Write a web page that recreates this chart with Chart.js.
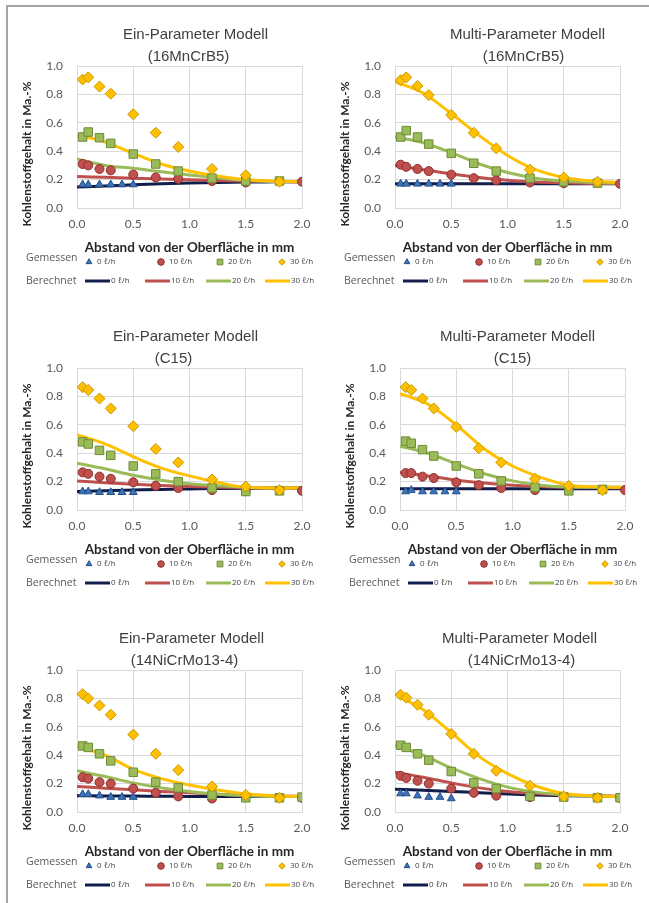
<!DOCTYPE html>
<html>
<head>
<meta charset="utf-8">
<script src="https://cdn.jsdelivr.net/npm/chart.js@4.4.1/dist/chart.umd.min.js"></script>
<style>
  html, body { margin: 0; overflow: hidden; }
  body { background: #fff; width: 649px; height: 903px; position: relative; }
  .frame { position: absolute; left: 6px; top: 5px; width: 641px; height: 896px;
           border-top: 2px solid #a6a6a6; border-left: 2px solid #a6a6a6; }
  canvas { position: absolute; }
</style>
</head>
<body>
<div class="frame"></div>
<canvas id="c1" width="316" height="292" style="left:8px;top:10px"></canvas>
<canvas id="c2" width="316" height="292" style="left:326px;top:10px"></canvas>
<canvas id="c3" width="316" height="292" style="left:8px;top:312px"></canvas>
<canvas id="c4" width="316" height="292" style="left:331px;top:312px"></canvas>
<canvas id="c5" width="316" height="289" style="left:8px;top:614px"></canvas>
<canvas id="c6" width="316" height="289" style="left:326px;top:614px"></canvas>
<script>
// shared x positions
var xMeasured = [0.05, 0.1, 0.2, 0.3, 0.4, 0.5, 0.7, 0.9, 1.2, 1.5, 1.8, 2.0];
var xCalc = [0, 0.25, 0.5, 0.75, 1.0, 1.25, 1.5, 1.75, 2.0];
var flowLabels = ['0 ℓ/h', '10 ℓ/h', '20 ℓ/h', '30 ℓ/h'];
var yTicks = [0, 0.2, 0.4, 0.6, 0.8, 1.0];
var xTicks = [0, 0.5, 1.0, 1.5, 2.0];

// Ein-Parameter 16MnCrB5 - gemessen
var einMn_m0 = [0.165, 0.165, 0.165, 0.165, 0.165, 0.165, null, null, null, null, null, null];
var einMn_m10 = [0.31, 0.30, 0.275, 0.265, null, 0.235, 0.215, 0.205, 0.19, 0.18, null, 0.185];
var einMn_m20 = [0.50, 0.535, 0.495, 0.455, null, 0.38, 0.31, 0.26, 0.21, 0.19, 0.19, null];
var einMn_m30 = [0.905, 0.92, 0.855, 0.805, null, 0.66, 0.53, 0.43, 0.275, 0.23, 0.185, null];
// Ein-Parameter 16MnCrB5 - berechnet
var einMn_c0 = [0.148, 0.155, 0.163, 0.17, 0.176, 0.18, 0.183, 0.184, 0.185];
var einMn_c10 = [0.222, 0.216, 0.21, 0.204, 0.199, 0.194, 0.19, 0.187, 0.185];
var einMn_c20 = [0.345, 0.30, 0.28, 0.255, 0.233, 0.213, 0.195, 0.187, 0.185];
var einMn_c30 = [0.515, 0.465, 0.385, 0.31, 0.26, 0.225, 0.2, 0.19, 0.185];

// Multi-Parameter 16MnCrB5
var mulMn_m0 = [0.17, 0.17, 0.17, 0.17, 0.17, 0.17, null, null, null, null, null, null];
var mulMn_m10 = [0.305, 0.29, 0.275, 0.26, null, 0.235, 0.21, 0.195, 0.18, 0.175, null, 0.17];
var mulMn_m20 = [0.50, 0.545, 0.50, 0.45, null, 0.385, 0.315, 0.26, 0.21, 0.185, 0.175, null];
var mulMn_m30 = [0.90, 0.92, 0.86, 0.795, null, 0.655, 0.53, 0.42, 0.27, 0.215, 0.185, null];
var mulMn_c0 = [0.17, 0.17, 0.17, 0.17, 0.17, 0.17, 0.17, 0.17, 0.17];
var mulMn_c10 = [0.30, 0.27, 0.24, 0.215, 0.195, 0.183, 0.177, 0.173, 0.172];
var mulMn_c20 = [0.50, 0.46, 0.39, 0.31, 0.25, 0.21, 0.19, 0.18, 0.175];
var mulMn_c30 = [0.89, 0.81, 0.665, 0.51, 0.37, 0.27, 0.215, 0.19, 0.18];

// Ein-Parameter C15
var einC_m0 = [0.13, 0.13, 0.125, 0.125, 0.125, 0.125, null, null, null, null, null, null];
var einC_m10 = [0.265, 0.255, 0.235, 0.22, null, 0.195, 0.17, 0.155, 0.14, 0.135, null, 0.135];
var einC_m20 = [0.48, 0.465, 0.42, 0.385, null, 0.31, 0.255, 0.20, 0.155, 0.13, 0.135, null];
var einC_m30 = [0.865, 0.845, 0.785, 0.715, null, 0.59, 0.43, 0.335, 0.215, 0.165, 0.14, null];
var einC_c0 = [0.13, 0.135, 0.14, 0.145, 0.148, 0.151, 0.153, 0.154, 0.155];
var einC_c10 = [0.205, 0.192, 0.182, 0.173, 0.166, 0.161, 0.158, 0.156, 0.155];
var einC_c20 = [0.33, 0.29, 0.245, 0.21, 0.185, 0.17, 0.16, 0.156, 0.155];
var einC_c30 = [0.53, 0.465, 0.375, 0.295, 0.24, 0.195, 0.16, 0.155, 0.155];

// Multi-Parameter C15
var mulC_m0 = [0.13, 0.14, 0.13, 0.13, 0.13, 0.13, null, null, null, null, null, null];
var mulC_m10 = [0.26, 0.26, 0.235, 0.225, null, 0.195, 0.175, 0.155, 0.14, 0.14, null, 0.14];
var mulC_m20 = [0.485, 0.47, 0.425, 0.38, null, 0.31, 0.255, 0.205, 0.16, 0.135, 0.145, null];
var mulC_m30 = [0.865, 0.845, 0.785, 0.715, null, 0.585, 0.435, 0.335, 0.22, 0.17, 0.14, null];
var mulC_c0 = [0.15, 0.15, 0.15, 0.15, 0.15, 0.15, 0.15, 0.15, 0.15];
var mulC_c10 = [0.265, 0.24, 0.21, 0.19, 0.175, 0.165, 0.16, 0.158, 0.157];
var mulC_c20 = [0.45, 0.40, 0.325, 0.255, 0.205, 0.175, 0.162, 0.16, 0.16];
var mulC_c30 = [0.82, 0.745, 0.60, 0.43, 0.31, 0.23, 0.175, 0.163, 0.16];

// Ein-Parameter 14NiCrMo13-4
var einNi_m0 = [0.125, 0.125, 0.115, 0.105, 0.105, 0.105, null, null, null, null, null, null];
var einNi_m10 = [0.245, 0.235, 0.21, 0.20, null, 0.165, 0.135, 0.11, 0.095, null, null, 0.10];
var einNi_m20 = [0.465, 0.455, 0.41, 0.36, null, 0.28, 0.21, 0.17, 0.12, 0.10, 0.10, 0.105];
var einNi_m30 = [0.83, 0.80, 0.75, 0.685, null, 0.545, 0.41, 0.295, 0.18, 0.12, 0.10, null];
var einNi_c0 = [0.115, 0.113, 0.112, 0.111, 0.11, 0.11, 0.11, 0.11, 0.11];
var einNi_c10 = [0.18, 0.168, 0.156, 0.145, 0.135, 0.125, 0.117, 0.112, 0.11];
var einNi_c20 = [0.29, 0.25, 0.205, 0.17, 0.145, 0.125, 0.115, 0.11, 0.11];
var einNi_c30 = [0.46, 0.40, 0.30, 0.235, 0.19, 0.155, 0.128, 0.115, 0.11];

// Multi-Parameter 14NiCrMo13-4
var mulNi_m0 = [0.13, 0.13, 0.115, 0.105, 0.105, 0.095, null, null, null, null, null, null];
var mulNi_m10 = [0.255, 0.24, 0.22, 0.20, null, 0.165, 0.135, 0.115, 0.105, null, null, 0.10];
var mulNi_m20 = [0.47, 0.455, 0.41, 0.365, null, 0.285, 0.205, 0.165, 0.11, 0.105, 0.10, 0.10];
var mulNi_m30 = [0.825, 0.805, 0.755, 0.685, null, 0.55, 0.41, 0.29, 0.185, 0.11, 0.10, null];
var mulNi_c0 = [0.16, 0.153, 0.145, 0.135, 0.127, 0.12, 0.115, 0.112, 0.11];
var mulNi_c10 = [0.28, 0.245, 0.205, 0.17, 0.145, 0.13, 0.12, 0.115, 0.11];
var mulNi_c20 = [0.47, 0.40, 0.31, 0.235, 0.175, 0.14, 0.12, 0.113, 0.11];
var mulNi_c30 = [0.83, 0.72, 0.56, 0.39, 0.27, 0.183, 0.13, 0.115, 0.11];

// marker / line styles, 0 / 10 / 20 / 30 l/h
var markStyle = ['triangle', 'circle', 'rect', 'rectRot'];
var markRadius = [4.5, 4.5, 6, 5.5];
var fillCol = ['#3b72b8', '#c0504d', '#9bbb59', '#ffc000'];
var edgeCol = ['#24508a', '#8e2e2b', '#6e8c35', '#c99700'];
var lineCol = ['#111d4a', '#c0504d', '#9bbb59', '#ffc000'];

function toPoints(xs, ys) {
  var pts = [];
  for (var i = 0; i < xs.length; i++) {
    if (ys[i] !== null) pts.push({x: xs[i], y: ys[i]});
  }
  return pts;
}

// titles, y axis title and the two-row legend
var panelDecor = {
  id: 'panelDecor',
  afterDraw: function(chart, args, opts) {
    var ctx = chart.ctx, a = chart.chartArea;
    var cx = (a.left + a.right) / 2;
    ctx.save();
    ctx.fillStyle = '#404040';
    ctx.font = '15px "Liberation Sans", Arial, sans-serif';
    ctx.textAlign = 'center';
    ctx.textBaseline = 'middle';
    ctx.fillText(opts.title[0], cx + opts.shift[0], a.top - 31);
    ctx.fillText(opts.title[1], cx + opts.shift[1], a.top - 9);

    ctx.save();
    ctx.translate(19.5, (a.top + a.bottom) / 2 + 17);
    ctx.rotate(-Math.PI / 2);
    ctx.font = 'bold 12px Lato, sans-serif';
    ctx.fillStyle = '#262626';
    ctx.fillText('Kohlenstoffgehalt in Ma.-%', 0, 0);
    ctx.restore();

    var y1 = a.bottom + 54, y2 = a.bottom + 73;
    var L = a.left;
    var mx = [12, 84, 143, 205];
    var lx = [8, 68, 129, 188];
    ctx.textAlign = 'left';
    ctx.fillStyle = '#595959';
    ctx.font = '10.5px "Open Sans", sans-serif';
    ctx.fillText('Gemessen', L - 51, y1 - 4);
    ctx.fillText('Berechnet', L - 51, y2);
    for (var j = 0; j < 4; j++) {
      ctx.fillStyle = fillCol[j];
      ctx.strokeStyle = edgeCol[j];
      ctx.lineWidth = 1;
      Chart.helpers.drawPoint(ctx, {
        pointStyle: markStyle[j], radius: j === 2 ? 4 : 3.3, rotation: 0, borderWidth: 1
      }, L + mx[j], y1);
      ctx.fillStyle = '#404040';
      ctx.font = '8px "Open Sans", sans-serif';
      ctx.fillText(flowLabels[j], L + mx[j] + 8, y1);

      ctx.strokeStyle = lineCol[j];
      ctx.lineWidth = 3;
      ctx.beginPath();
      ctx.moveTo(L + lx[j], y2);
      ctx.lineTo(L + lx[j] + 25, y2);
      ctx.stroke();
      ctx.fillText(flowLabels[j], L + lx[j] + 26, y2);
    }
    ctx.restore();
  }
};

function makePanel(id, title, shift, meas, calc) {
  var datasets = [];
  for (var i = 0; i < 4; i++) {
    datasets.push({
      label: 'Gemessen ' + flowLabels[i],
      data: toPoints(xMeasured, meas[i]),
      showLine: false,
      pointStyle: markStyle[i],
      pointRadius: markRadius[i],
      backgroundColor: fillCol[i],
      borderColor: edgeCol[i],
      pointBorderWidth: 1,
      order: 4 - i
    });
  }
  for (var k = 0; k < 4; k++) {
    datasets.push({
      label: 'Berechnet ' + flowLabels[k],
      data: toPoints(xCalc, calc[k]),
      showLine: true,
      pointRadius: 0,
      borderColor: lineCol[k],
      borderWidth: 3,
      cubicInterpolationMode: 'monotone',
      fill: false,
      order: 8 - k
    });
  }
  var canvas = document.getElementById(id);
  new Chart(canvas, {
    type: 'scatter',
    data: { datasets: datasets },
    options: {
      responsive: false,
      animation: false,
      events: [],
      layout: { padding: { top: 56, right: 22, bottom: canvas.height - 246, left: 0 } },
      plugins: {
        legend: { display: false },
        tooltip: { enabled: false },
        panelDecor: { title: title, shift: shift }
      },
      scales: {
        x: {
          type: 'linear', min: 0, max: 2,
          afterBuildTicks: function(s) { s.ticks = xTicks.map(function(v) { return {value: v}; }); },
          afterFit: function(s) { s.height = 48; },
          grid: { color: '#d9d9d9', drawTicks: false },
          border: { color: '#d9d9d9' },
          ticks: { padding: 9, color: '#595959', font: { family: 'Lato', size: 12 },
                   callback: function(v) { return v.toFixed(1); } },
          title: { display: true, text: 'Abstand von der Oberfläche in mm', color: '#262626',
                   font: { family: 'Lato', size: 13.5, weight: 'bold' }, padding: 0 }
        },
        y: {
          type: 'linear', min: 0, max: 1,
          afterBuildTicks: function(s) { s.ticks = yTicks.map(function(v) { return {value: v}; }); },
          afterFit: function(s) { s.width = 69; },
          grid: { color: '#d9d9d9', drawTicks: false },
          border: { color: '#d9d9d9' },
          ticks: { padding: 14, color: '#595959', font: { family: 'Lato', size: 12 },
                   callback: function(v) { return v.toFixed(1); } }
        }
      }
    },
    plugins: [panelDecor]
  });
}

makePanel('c1', ['Ein-Parameter Modell', '(16MnCrB5)'], [6, -1],
  [einMn_m0, einMn_m10, einMn_m20, einMn_m30], [einMn_c0, einMn_c10, einMn_c20, einMn_c30]);
makePanel('c2', ['Multi-Parameter Modell', '(16MnCrB5)'], [20, 16],
  [mulMn_m0, mulMn_m10, mulMn_m20, mulMn_m30], [mulMn_c0, mulMn_c10, mulMn_c20, mulMn_c30]);
makePanel('c3', ['Ein-Parameter Modell', '(C15)'], [-4, -16],
  [einC_m0, einC_m10, einC_m20, einC_m30], [einC_c0, einC_c10, einC_c20, einC_c30]);
makePanel('c4', ['Multi-Parameter Modell', '(C15)'], [5, 0],
  [mulC_m0, mulC_m10, mulC_m20, mulC_m30], [mulC_c0, mulC_c10, mulC_c20, mulC_c30]);
makePanel('c5', ['Ein-Parameter Modell', '(14NiCrMo13-4)'], [2, -5],
  [einNi_m0, einNi_m10, einNi_m20, einNi_m30], [einNi_c0, einNi_c10, einNi_c20, einNi_c30]);
makePanel('c6', ['Multi-Parameter Modell', '(14NiCrMo13-4)'], [12, 14],
  [mulNi_m0, mulNi_m10, mulNi_m20, mulNi_m30], [mulNi_c0, mulNi_c10, mulNi_c20, mulNi_c30]);
</script>
</body>
</html>
